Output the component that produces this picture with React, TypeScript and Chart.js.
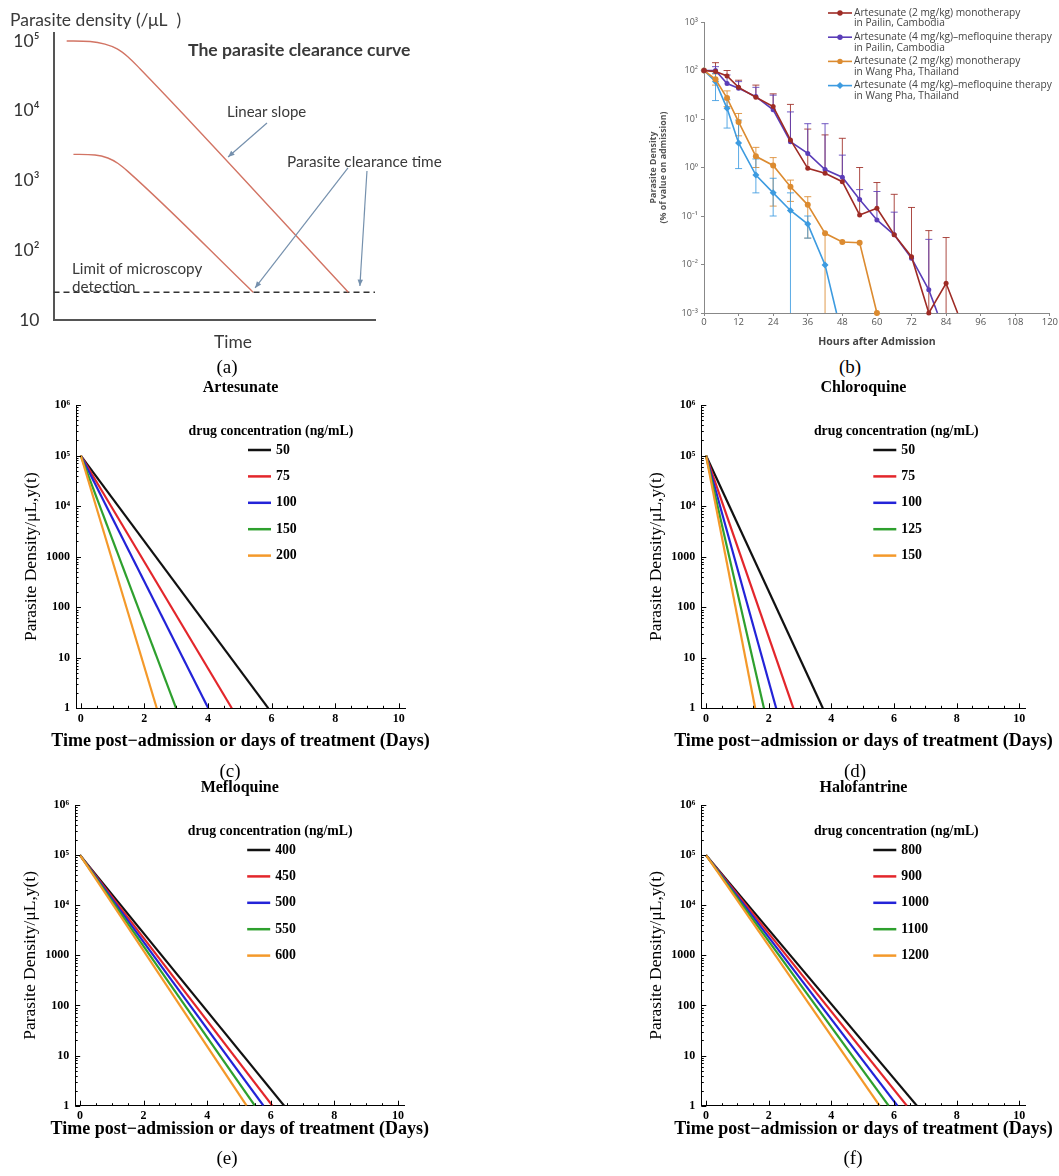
import React, { useEffect, useRef } from "react";
import { Chart, registerables } from "chart.js";
Chart.register(...registerables);

// ---------------- (a) schematic clearance curve ----------------
const schematicHighTime = [4.1, 11.4, 16.0, 19.8, 23.2, 26.9, 91.7];
const schematicHighDensity = [100000, 98000, 90000, 77000, 59000, 40000, 25];
const schematicLowTime = [6.2, 12.9, 16.9, 20.1, 23.2, 62.1];
const schematicLowDensity = [2370, 2320, 2100, 1750, 1340, 25];
const detectionLimit = 25;
const detectionSpan = [0, 100];
const schematicYTicks = [10, 100, 1000, 10000, 100000];
const schematicYLabels = ["10", "10²", "10³", "10⁴", "10⁵"];
// arrows: [fromTime, fromDensity, toTime, toDensity]
const arrowLinearSlope = [66.4, 6670, 54.3, 2170];
const arrowClearanceLow = [91.6, 1510, 62.7, 28.8];
const arrowClearanceHigh = [97.5, 1368, 95.3, 30.7];

// ---------------- (b) clinical data ----------------
const hourTicks = [0, 12, 24, 36, 48, 60, 72, 84, 96, 108, 120];
const pctTicks = [0.001, 0.01, 0.1, 1, 10, 100, 1000];
const pctLabels = ["10⁻³", "10⁻²", "10⁻¹", "10⁰", "10¹", "10²", "10³"];

const pailinMonoHours = [0, 4, 8, 12, 18, 24, 30, 36, 42, 48, 54, 60, 66, 72, 78, 84, 88];
const pailinMonoPct = [100, 95, 77, 45, 28, 18, 3.7, 0.96, 0.76, 0.51, 0.105, 0.144, 0.041, 0.0145, 0.001, 0.0041, 0.001];
const pailinMonoUpper = [null, 145, 100, 63, 50, 33, 20, 6.2, 4.7, 4.0, 1.0, 0.49, 0.28, 0.15, 0.05, 0.036, null];
const pailinMonoLower = [null, null, null, null, null, null, null, null, null, null, null, null, null, null, null, 0.001, null];

const pailinComboHours = [0, 4, 8, 12, 18, 24, 30, 36, 42, 48, 54, 60, 66, 72, 78, 81];
const pailinComboPct = [100, 100, 54, 43, 29, 15.5, 3.4, 1.95, 0.91, 0.63, 0.22, 0.083, 0.041, 0.0135, 0.003, 0.001];
const pailinComboUpper = [null, 120, 81, 59, 45, 31, 14, 8, 8, 1.8, 0.35, 0.32, 0.12, null, 0.033, null];
const pailinComboLower = pailinComboHours.map(() => null);

const wangPhaMonoHours = [0, 4, 8, 12, 18, 24, 30, 36, 42, 48, 54, 60];
const wangPhaMonoPct = [100, 66, 27, 8.7, 1.7, 1.1, 0.4, 0.17, 0.044, 0.029, 0.028, 0.001];
const wangPhaMonoUpper = [null, 85, 38, 13, 2.6, 1.6, 0.55, 0.25, null, null, null, null];
const wangPhaMonoLower = [null, 50, 18, 4.5, 1.0, 0.16, 0.2, 0.035, 0.001, null, null, null];

const wangPhaComboHours = [0, 4, 8, 12, 18, 24, 30, 36, 42, 46];
const wangPhaComboPct = [100, 59, 16.6, 3.2, 0.7, 0.3, 0.13, 0.068, 0.0098, 0.001];
const wangPhaComboUpper = [null, 87, 25, 9.5, 1.5, 0.6, 0.3, 0.1, null, null];
const wangPhaComboLower = [null, 24, 6.5, 0.95, 0.3, 0.1, 0.001, 0.035, null, null];

const clinicalLegend = [
  ["Artesunate (2 mg/kg) monotherapy", "in Pailin, Cambodia"],
  ["Artesunate (4 mg/kg)–mefloquine therapy", "in Pailin, Cambodia"],
  ["Artesunate (2 mg/kg) monotherapy", "in Wang Pha, Thailand"],
  ["Artesunate (4 mg/kg)–mefloquine therapy", "in Wang Pha, Thailand"],
];

// ---------------- (c)-(f) model simulations ----------------
const dayTicks = [0, 2, 4, 6, 8, 10];
const densityTicks = [1, 10, 100, 1000, 10000, 100000, 1000000];
const densityLabels = ["1", "10", "100", "1000", "10⁴", "10⁵", "10⁶"];
const startDensity = 100000;
const endDensity = 1;

const artesunateConc = ["50", "75", "100", "150", "200"];
const artesunateClearDays = [5.9, 4.75, 4.01, 3.0, 2.39];
const chloroquineConc = ["50", "75", "100", "125", "150"];
const chloroquineClearDays = [3.73, 2.79, 2.24, 1.85, 1.57];
const mefloquineConc = ["400", "450", "500", "550", "600"];
const mefloquineClearDays = [6.42, 6.05, 5.77, 5.5, 5.24];
const halofantrineConc = ["800", "900", "1000", "1100", "1200"];
const halofantrineClearDays = [6.73, 6.41, 6.11, 5.83, 5.54];

const SERIF = "'Liberation Serif', 'Times New Roman', serif";
const LATO = "Lato, 'Open Sans', sans-serif";
const OSANS = "'Open Sans', 'Noto Sans', sans-serif";
const mathColors = ["#111111", "#e3262b", "#2323d8", "#2ea02e", "#f4992a"];

const pts = (xs: number[], ys: number[]) => xs.map((x, i) => ({ x, y: ys[i] }));

type Panel = { left: number; top: number; width: number; height: number; config: any };

function ChartCanvas({ panel }: { panel: Panel }) {
  const ref = useRef<HTMLCanvasElement>(null);
  useEffect(() => {
    const chart = new Chart(ref.current as HTMLCanvasElement, panel.config);
    return () => chart.destroy();
  }, []);
  return (
    <canvas
      ref={ref}
      width={panel.width}
      height={panel.height}
      style={{ position: "absolute", left: panel.left, top: panel.top, width: panel.width, height: panel.height }}
    />
  );
}

const baseOptions = {
  responsive: false,
  maintainAspectRatio: false,
  animation: false,
  devicePixelRatio: 1,
  events: [],
};

// ---------- panel (a) ----------
function schematicPanel(): Panel {
  const left = 0, top = 0, width = 470, height = 385;
  const area = { left: 53.5, top: 33, right: 375, bottom: 320 };
  const texts = [
    { t: "Parasite density (/μL  )", x: 10, y: 20, font: `17.5px ${LATO}`, align: "left" },
    { t: "The parasite clearance curve", x: 188, y: 50, font: `bold 17.6px ${LATO}`, align: "left" },
    { t: "Linear slope", x: 227, y: 112, font: `15px ${LATO}`, align: "left" },
    { t: "Parasite clearance time", x: 287, y: 162, font: `15.3px ${LATO}`, align: "left" },
    { t: "Limit of microscopy", x: 72, y: 269, font: `15.2px ${LATO}`, align: "left" },
    { t: "detection", x: 72, y: 287, font: `15.2px ${LATO}`, align: "left" },
    { t: "Time", x: 233, y: 342, font: `17.4px ${LATO}`, align: "center" },
  ];
  const arrows = [arrowLinearSlope, arrowClearanceLow, arrowClearanceHigh];
  const annot = {
    id: "schematicAnnot",
    afterDatasetsDraw(chart: any) {
      const { ctx, scales } = chart;
      ctx.save();
      ctx.fillStyle = "#3a3a3a";
      ctx.textBaseline = "middle";
      for (const tx of texts) {
        ctx.font = tx.font;
        ctx.textAlign = tx.align;
        ctx.fillText(tx.t, tx.x - left, tx.y - top);
      }
      ctx.strokeStyle = "#7590ad";
      ctx.fillStyle = "#7590ad";
      ctx.lineWidth = 1.2;
      for (const a of arrows) {
        const x0 = scales.x.getPixelForValue(a[0]);
        const y0 = scales.y.getPixelForValue(a[1]);
        const x1 = scales.x.getPixelForValue(a[2]);
        const y1 = scales.y.getPixelForValue(a[3]);
        ctx.beginPath();
        ctx.moveTo(x0, y0);
        ctx.lineTo(x1, y1);
        ctx.stroke();
        const ang = Math.atan2(y1 - y0, x1 - x0);
        const L = 7, W = 0.4;
        ctx.beginPath();
        ctx.moveTo(x1, y1);
        ctx.lineTo(x1 - L * Math.cos(ang - W), y1 - L * Math.sin(ang - W));
        ctx.lineTo(x1 - L * Math.cos(ang + W), y1 - L * Math.sin(ang + W));
        ctx.closePath();
        ctx.fill();
      }
      ctx.restore();
    },
  };
  const curveColor = "#d27464";
  const config = {
    type: "line",
    data: {
      datasets: [
        { label: "high", data: pts(schematicHighTime, schematicHighDensity), borderColor: curveColor, borderWidth: 1.4, pointRadius: 0, cubicInterpolationMode: "monotone", fill: false },
        { label: "low", data: pts(schematicLowTime, schematicLowDensity), borderColor: curveColor, borderWidth: 1.4, pointRadius: 0, cubicInterpolationMode: "monotone", fill: false },
        { label: "limit", data: detectionSpan.map((x) => ({ x, y: detectionLimit })), borderColor: "#333", borderWidth: 1.4, borderDash: [6, 4], pointRadius: 0, fill: false },
      ],
    },
    options: {
      ...baseOptions,
      layout: { padding: { top: area.top - top, right: left + width - area.right, left: 0, bottom: 0 } },
      plugins: { legend: { display: false }, tooltip: { enabled: false } },
      scales: {
        x: {
          type: "linear", min: 0, max: 100,
          ticks: { display: false },
          grid: { display: false, drawTicks: false },
          border: { display: true, color: "#555", width: 2 },
          afterFit: (s: any) => { s.height = top + height - area.bottom; },
        },
        y: {
          type: "logarithmic", min: 10, max: 130000,
          afterBuildTicks: (s: any) => { s.ticks = schematicYTicks.map((v) => ({ value: v })); },
          ticks: {
            autoSkip: false, padding: 14, color: "#333",
            font: { family: LATO, size: 17.5 },
            callback: (v: number) => schematicYLabels[schematicYTicks.indexOf(v)] ?? "",
          },
          grid: { display: false, drawTicks: false },
          border: { display: true, color: "#555", width: 2 },
          afterFit: (s: any) => { s.width = area.left - left; },
        },
      },
    },
    plugins: [annot],
  };
  return { left, top, width, height, config };
}

// ---------- panel (b) ----------
function clinicalPanel(): Panel {
  const left = 630, top = 0, width = 429, height = 352;
  const area = { left: 704, top: 22, right: 1050, bottom: 313 };
  const colors = ["#9e2b25", "#5a3db8", "#dc8b30", "#3d9be0"];
  const series = [
    { h: pailinMonoHours, v: pailinMonoPct, up: pailinMonoUpper, lo: pailinMonoLower, style: "circle", r: 2.5, hideLast: true },
    { h: pailinComboHours, v: pailinComboPct, up: pailinComboUpper, lo: pailinComboLower, style: "circle", r: 2.5, hideLast: true },
    { h: wangPhaMonoHours, v: wangPhaMonoPct, up: wangPhaMonoUpper, lo: wangPhaMonoLower, style: "circle", r: 3, hideLast: false },
    { h: wangPhaComboHours, v: wangPhaComboPct, up: wangPhaComboUpper, lo: wangPhaComboLower, style: "rectRot", r: 3.5, hideLast: true },
  ];
  const datasets = series.map((s, i) => ({
    label: clinicalLegend[i].join(" "),
    data: pts(s.h, s.v),
    borderColor: colors[i],
    backgroundColor: colors[i],
    borderWidth: 1.6,
    pointStyle: s.style,
    pointRadius: s.h.map((_, k) => (s.hideLast && k === s.h.length - 1 ? 0 : s.r)),
    pointBorderWidth: 0,
    fill: false,
    clip: false,
  }));
  const errorBars = {
    id: "errorBars",
    beforeDatasetsDraw(chart: any) {
      const { ctx, scales } = chart;
      ctx.save();
      ctx.lineWidth = 1;
      series.forEach((s, i) => {
        ctx.strokeStyle = colors[i];
        ctx.globalAlpha = 0.85;
        s.h.forEach((h, k) => {
          const x = scales.x.getPixelForValue(h);
          const y = scales.y.getPixelForValue(s.v[k]);
          for (const b of [s.up[k], s.lo[k]]) {
            if (b == null) continue;
            const yb = scales.y.getPixelForValue(b);
            ctx.beginPath();
            ctx.moveTo(x, y);
            ctx.lineTo(x, yb);
            if (b > 0.001) {
              ctx.moveTo(x - 3.5, yb);
              ctx.lineTo(x + 3.5, yb);
            }
            ctx.stroke();
          }
        });
      });
      ctx.restore();
    },
  };
  const legendAndTitle = {
    id: "clinicalLegend",
    afterDraw(chart: any) {
      const { ctx } = chart;
      const ds = chart.data.datasets;
      ctx.save();
      ds.forEach((d: any, i: number) => {
        const y = 13 + 24.2 * i - top;
        const x0 = 828 - left, x1 = 852 - left;
        ctx.strokeStyle = d.borderColor;
        ctx.fillStyle = d.borderColor;
        ctx.lineWidth = 1.6;
        ctx.beginPath();
        ctx.moveTo(x0, y);
        ctx.lineTo(x1, y);
        ctx.stroke();
        ctx.beginPath();
        if (d.pointStyle === "rectRot") {
          const c = (x0 + x1) / 2;
          ctx.moveTo(c, y - 3.5); ctx.lineTo(c + 3.5, y); ctx.lineTo(c, y + 3.5); ctx.lineTo(c - 3.5, y); ctx.closePath();
        } else {
          ctx.arc((x0 + x1) / 2, y, 2.7, 0, Math.PI * 2);
        }
        ctx.fill();
        ctx.fillStyle = "#444";
        ctx.font = `10.2px ${OSANS}`;
        ctx.textAlign = "left";
        ctx.textBaseline = "middle";
        ctx.fillText(clinicalLegend[i][0], 854 - left, y);
        ctx.fillText(clinicalLegend[i][1], 854 - left, y + 10.5);
      });
      ctx.fillStyle = "#555";
      ctx.font = `bold 8.8px ${OSANS}`;
      ctx.textAlign = "center";
      ctx.textBaseline = "middle";
      const cy = (area.top + area.bottom) / 2 - top;
      ([["Parasite Density", 653], ["(% of value on admission)", 663.5]] as [string, number][]).forEach(([t, px]) => {
        ctx.save();
        ctx.translate(px - left, cy);
        ctx.rotate(-Math.PI / 2);
        ctx.fillText(t, 0, 0);
        ctx.restore();
      });
      ctx.restore();
    },
  };
  const axisGrid = { drawOnChartArea: false, drawTicks: true, tickLength: 3, color: "#888" };
  const config = {
    type: "line",
    data: { datasets },
    options: {
      ...baseOptions,
      layout: { padding: { top: area.top - top, right: left + width - area.right, left: 0, bottom: 0 } },
      plugins: { legend: { display: false }, tooltip: { enabled: false } },
      scales: {
        x: {
          type: "linear", min: 0, max: 120,
          afterBuildTicks: (s: any) => { s.ticks = hourTicks.map((v) => ({ value: v })); },
          ticks: { autoSkip: false, maxRotation: 0, padding: 1, color: "#555", font: { family: OSANS, size: 9.5 } },
          grid: axisGrid,
          border: { display: true, color: "#888", width: 1 },
          title: { display: true, text: "Hours after Admission", color: "#444", font: { family: OSANS, size: 10.5, weight: "bold" }, padding: { top: 0, bottom: 3.7 } },
          afterFit: (s: any) => { s.height = top + height - area.bottom; },
        },
        y: {
          type: "logarithmic", min: 0.001, max: 1000,
          afterBuildTicks: (s: any) => { s.ticks = pctTicks.map((v) => ({ value: v })); },
          ticks: {
            autoSkip: false, padding: 3, color: "#555", font: { family: OSANS, size: 9 },
            callback: (v: number) => pctLabels[pctTicks.findIndex((t) => Math.abs(t - v) / t < 1e-6)] ?? "",
          },
          grid: axisGrid,
          border: { display: true, color: "#888", width: 1 },
          afterFit: (s: any) => { s.width = area.left - left; },
        },
      },
    },
    plugins: [errorBars, legendAndTitle],
  };
  return { left, top, width, height, config };
}

// ---------- panels (c)-(f) ----------
function simulationPanel(spec: {
  title: string; concs: string[]; days: number[];
  areaLeft: number; unit: number; areaTop: number; areaBottom: number; xTitleY: number;
}): Panel {
  const xMin = -0.15, xMax = 10.2;
  const xTitleSize = 18, yTitleSize = 17.5;
  const areaRight = spec.areaLeft + (xMax - xMin) * spec.unit;
  const left = Math.floor(spec.areaLeft - 58);
  const top = Math.floor(spec.areaTop - 25);
  const width = Math.ceil(areaRight + 32 - left);
  const height = Math.round(spec.xTitleY + 14 - top);
  const yW = spec.areaLeft - left;
  const xH = top + height - spec.areaBottom;
  const yTitlePad = Math.max(0, yW - 45 - yTitleSize * 0.6);

  const datasets = spec.concs.map((c, i) => ({
    label: c,
    data: [{ x: 0, y: startDensity }, { x: spec.days[i], y: endDensity }],
    borderColor: mathColors[i],
    borderWidth: 2.2,
    pointRadius: 0,
    fill: false,
    order: spec.concs.length - i,
  }));

  const decorations = {
    id: "mathDecor",
    afterDraw(chart: any) {
      const { ctx, chartArea: a, scales } = chart;
      ctx.save();
      // inward ticks
      ctx.strokeStyle = "#000";
      ctx.lineWidth = 1;
      ctx.beginPath();
      for (let k = 0; k <= 20; k++) {
        const v = k * 0.5;
        const px = Math.round(scales.x.getPixelForValue(v)) + 0.5;
        const len = k % 4 === 0 ? 5 : 2.5;
        ctx.moveTo(px, a.bottom);
        ctx.lineTo(px, a.bottom - len);
      }
      for (let e = 0; e <= 6; e++) {
        for (let m = 1; m <= 9; m++) {
          const v = m * Math.pow(10, e);
          if (v > 1000000) break;
          const py = Math.round(scales.y.getPixelForValue(v)) + 0.5;
          const len = m === 1 ? 5 : 2.5;
          ctx.moveTo(a.left, py);
          ctx.lineTo(a.left + len, py);
        }
      }
      ctx.stroke();
      ctx.fillStyle = "#000";
      ctx.textAlign = "center";
      ctx.textBaseline = "middle";
      // x-axis title
      ctx.font = `bold ${xTitleSize}px ${SERIF}`;
      ctx.fillText("Time post−admission or days of treatment (Days)", (a.left + a.right) / 2, spec.xTitleY - top);
      // title
      ctx.font = `bold 16px ${SERIF}`;
      ctx.fillText(spec.title, (a.left + a.right) / 2, a.top - 17);
      // legend
      ctx.font = `bold 13.8px ${SERIF}`;
      ctx.fillText("drug concentration (ng/mL)", a.left + 195, a.top + 26.7);
      ctx.textAlign = "left";
      chart.data.datasets.forEach((d: any, i: number) => {
        const y = a.top + 45 + 26.4 * i;
        ctx.strokeStyle = d.borderColor;
        ctx.lineWidth = 2.5;
        ctx.beginPath();
        ctx.moveTo(a.left + 172, y);
        ctx.lineTo(a.left + 195, y);
        ctx.stroke();
        ctx.fillStyle = "#000";
        ctx.fillText(d.label, a.left + 200, y);
      });
      ctx.restore();
    },
  };

  const config = {
    type: "line",
    data: { datasets },
    options: {
      ...baseOptions,
      layout: { padding: { top: spec.areaTop - top, right: left + width - areaRight, left: 0, bottom: 0 } },
      plugins: { legend: { display: false }, tooltip: { enabled: false } },
      scales: {
        x: {
          type: "linear", min: xMin, max: xMax,
          afterBuildTicks: (s: any) => { s.ticks = dayTicks.map((v) => ({ value: v })); },
          ticks: { autoSkip: false, maxRotation: 0, padding: 3.5, color: "#000", font: { family: SERIF, size: 12, weight: "bold" }, callback: (v: number) => String(v) },
          grid: { display: false, drawTicks: false },
          border: { display: true, color: "#000", width: 1 },
          title: { display: false },
          afterFit: (s: any) => { s.height = xH; },
        },
        y: {
          type: "logarithmic", min: 1, max: 1000000,
          afterBuildTicks: (s: any) => { s.ticks = densityTicks.map((v) => ({ value: v })); },
          ticks: {
            autoSkip: false, padding: 6, color: "#000", font: { family: SERIF, size: 12, weight: "bold" },
            callback: (v: number) => densityLabels[densityTicks.findIndex((t) => Math.abs(t - v) / t < 1e-6)] ?? "",
          },
          grid: { display: false, drawTicks: false },
          border: { display: true, color: "#000", width: 1 },
          title: { display: true, text: "Parasite Density/μL,y(t)", color: "#000", font: { family: SERIF, size: yTitleSize }, padding: { top: yTitlePad, bottom: 0 } },
          afterFit: (s: any) => { s.width = yW; },
        },
      },
    },
    plugins: [decorations],
  };
  return { left, top, width, height, config };
}

const panels: Panel[] = [
  schematicPanel(),
  clinicalPanel(),
  simulationPanel({ title: "Artesunate", concs: artesunateConc, days: artesunateClearDays, areaLeft: 76, unit: 31.8, areaTop: 405, areaBottom: 708.3, xTitleY: 741.7 }),
  simulationPanel({ title: "Chloroquine", concs: chloroquineConc, days: chloroquineClearDays, areaLeft: 701.3, unit: 31.33, areaTop: 405, areaBottom: 708.3, xTitleY: 741.7 }),
  simulationPanel({ title: "Mefloquine", concs: mefloquineConc, days: mefloquineClearDays, areaLeft: 75.2, unit: 31.8, areaTop: 805, areaBottom: 1105.7, xTitleY: 1129.3 }),
  simulationPanel({ title: "Halofantrine", concs: halofantrineConc, days: halofantrineClearDays, areaLeft: 701.3, unit: 31.33, areaTop: 805, areaBottom: 1105.7, xTitleY: 1129.3 }),
];

const panelLabels = [
  { t: "(a)", x: 227, y: 366 },
  { t: "(b)", x: 850, y: 366 },
  { t: "(c)", x: 230, y: 770 },
  { t: "(d)", x: 855, y: 770 },
  { t: "(e)", x: 227, y: 1157 },
  { t: "(f)", x: 853, y: 1157 },
];

export default function App() {
  return (
    <div style={{ position: "absolute", left: 0, top: 0, width: 1059, height: 1176, background: "#fff", overflow: "hidden" }}>
      {panels.map((p, i) => (
        <ChartCanvas key={i} panel={p} />
      ))}
      {panelLabels.map((l) => (
        <div
          key={l.t}
          style={{
            position: "absolute", left: l.x, top: l.y, transform: "translate(-50%, -50%)",
            fontFamily: SERIF, fontSize: 19, lineHeight: 1, color: "#000", whiteSpace: "nowrap",
          }}
        >
          {l.t}
        </div>
      ))}
    </div>
  );
}
